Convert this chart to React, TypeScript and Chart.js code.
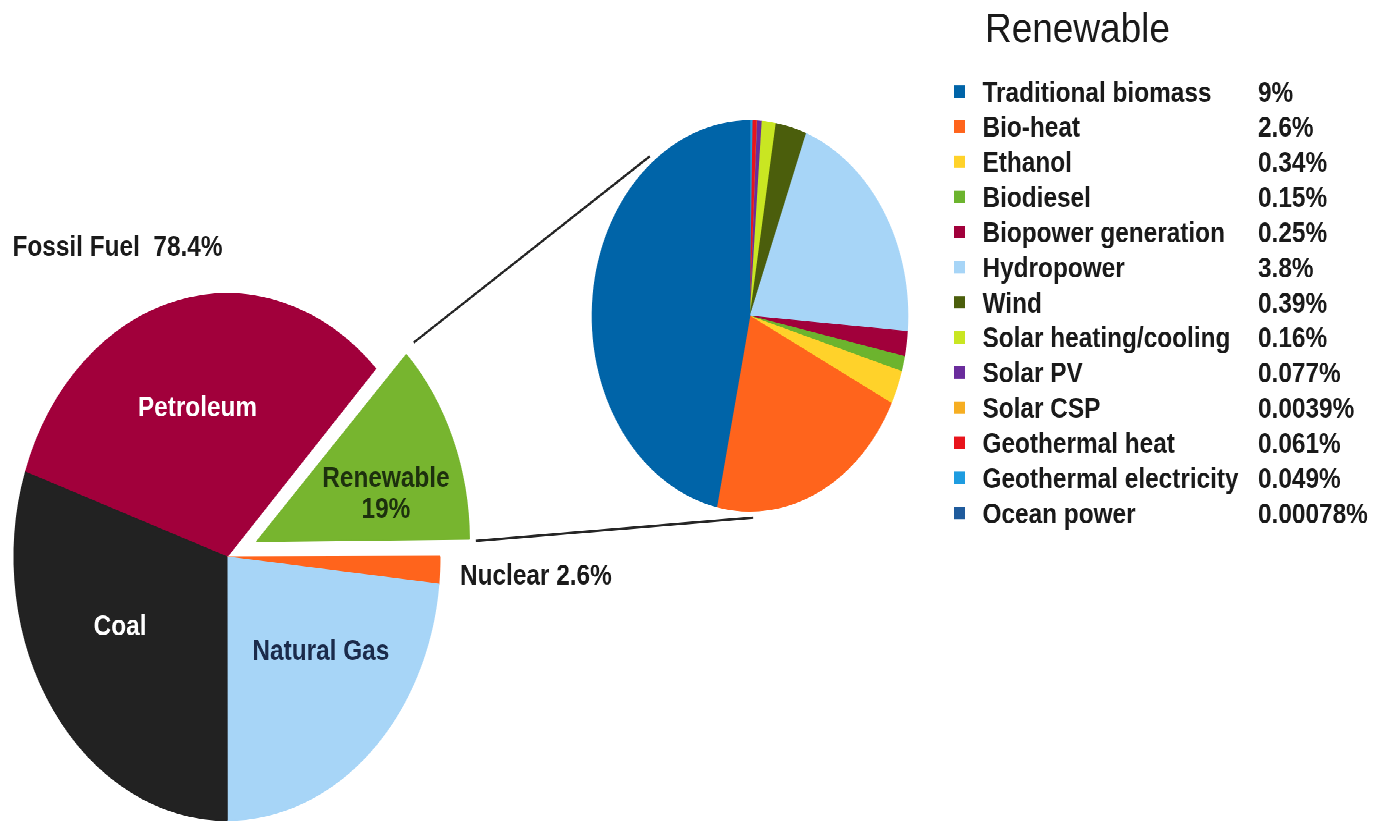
import { useEffect, useRef } from "react";
import { Chart, registerables } from "chart.js";

Chart.register(...registerables);

// ---------------- data ----------------
// Left pie: global final energy consumption (slice shares as drawn in the picture)
const energyLabels = ["Petroleum", "Renewable", "Nuclear", "Natural Gas", "Coal"];
const energyShares = [32.06, 12.64, 1.69, 23.31, 30.22];
const energyColors = ["#a1003b", "#77b52f", "#ff641c", "#a7d5f7", "#222222"];
const energyLabelLines = [["Petroleum"], ["Renewable", "19%"], ["Nuclear 2.6%"], ["Natural Gas"], ["Coal"]];
const energyLabelColors = ["#ffffff", "#1d300e", "#1a1a1a", "#1b2b4b", "#ffffff"];
const fossilLabel = "Fossil Fuel  78.4%";

// Right pie: breakdown of renewables (slice shares as drawn in the picture)
const renewableLabels = [
  "Traditional biomass",
  "Bio-heat",
  "Ethanol",
  "Biodiesel",
  "Biopower generation",
  "Hydropower",
  "Wind",
  "Solar heating/cooling",
  "Solar PV",
  "Solar CSP",
  "Geothermal heat",
  "Geothermal electricity",
  "Ocean power",
];
const renewablePercentLabels = [
  "9%", "2.6%", "0.34%", "0.15%", "0.25%", "3.8%", "0.39%",
  "0.16%", "0.077%", "0.0039%", "0.061%", "0.049%", "0.00078%",
];
const renewableShares = [8.86, 3.99, 0.53, 0.24, 0.39, 3.89, 0.6, 0.27, 0.09, 0.005, 0.08, 0.053, 0.001];
const renewableColors = [
  "#0064a8", "#ff641c", "#ffd22a", "#6cb42e", "#a1003b", "#a7d5f7", "#4b5e0c",
  "#c9e622", "#6a2c9c", "#f6ae22", "#e8141c", "#1e9ce0", "#1f5b9c",
];
const legendTitle = "Renewable";

// ---------------- layout ----------------
const PAGE_W = 1377;
const PAGE_H = 823;
const STRETCH = 1.2357;
const CANVAS_H = Math.round(PAGE_H / STRETCH);
const FONT = "'Liberation Sans', Arial, Helvetica, sans-serif";
const BODY_FONT = `bold 23px ${FONT}`;
const BODY_SX = 1.06;

const LEFT_CX = 227;
const LEFT_CY = 557 / STRETCH;
const LEFT_R = 213;
const LEFT_ROTATION = 288.8;
const EXPLODE = 32;
const explodeOffsets = [0, EXPLODE * 4, 0, 0, 0];
// label anchor: [clock degrees, radius fraction]
const energyLabelPolar = [
  [346.3, 0.585],
  [73.2, 0.635],
  [93.6, 1.096],
  [129, 0.567],
  [242.3, 0.567],
];
const energyLabelAlign = ["center", "center", "left", "center", "center"];

const RIGHT_CX = 750;
const RIGHT_CY = 316 / STRETCH;
const RIGHT_R = 158;

const LEGEND_TITLE_X = 985;
const LEGEND_TITLE_Y = 42 / STRETCH;
const LEGEND_MARK_X = 954;
const LEGEND_TEXT_X = 982.5;
const LEGEND_PCT_X = 1258;
const LEGEND_BASE = 101.7 / STRETCH;
const LEGEND_STEP = 35.12 / STRETCH;

function paddingFor(cx: number, cy: number) {
  return {
    left: Math.max(0, 2 * cx - PAGE_W),
    right: Math.max(0, PAGE_W - 2 * cx),
    top: Math.max(0, 2 * cy - CANVAS_H),
    bottom: Math.max(0, CANVAS_H - 2 * cy),
  };
}

function polar(cx: number, cy: number, r: number, clockDeg: number): [number, number] {
  const a = ((clockDeg - 90) * Math.PI) / 180;
  return [cx + Math.cos(a) * r, cy + Math.sin(a) * r];
}

function drawText(
  ctx: CanvasRenderingContext2D,
  text: string,
  x: number,
  y: number,
  font: string,
  color: string,
  align: CanvasTextAlign,
  sx: number,
  baseline: CanvasTextBaseline = "middle"
) {
  ctx.save();
  ctx.font = font;
  ctx.fillStyle = color;
  ctx.textAlign = align;
  ctx.textBaseline = baseline;
  ctx.translate(x, y);
  ctx.scale(sx, 1);
  ctx.fillText(text, 0, 0);
  ctx.restore();
}

function explodedCenter(arc: any) {
  const half = (arc.startAngle + arc.endAngle) / 2;
  return [arc.x + Math.cos(half) * EXPLODE, arc.y + Math.sin(half) * EXPLODE];
}

const leftPlugin = {
  id: "leftLabels",
  afterUpdate(chart: any) {
    // keep the exploded slice at the same radius as the rest of the pie
    const meta = chart.getDatasetMeta(0);
    meta.data.forEach((arc: any, i: number) => {
      const off = (explodeOffsets[i] || 0) / 4;
      if (!off) return;
      const circ = arc.endAngle - arc.startAngle;
      const fix = 1 - Math.sin(Math.min(Math.PI, circ));
      arc.outerRadius = arc.outerRadius - off * fix;
    });
  },
  afterDatasetsDraw(chart: any) {
    const ctx = chart.ctx as CanvasRenderingContext2D;
    const meta = chart.getDatasetMeta(0);
    const R = meta.controller.outerRadius;
    meta.data.forEach((arc: any, i: number) => {
      let cx = arc.x;
      let cy = arc.y;
      if (explodeOffsets[i]) {
        [cx, cy] = explodedCenter(arc);
      }
      const [deg, rf] = energyLabelPolar[i];
      const [x, y] = polar(cx, cy, R * rf, deg);
      const lines = energyLabelLines[i];
      const gap = 25;
      lines.forEach((line, k) => {
        const yy = y + (k - (lines.length - 1) / 2) * gap;
        drawText(ctx, line, x, yy + 1, BODY_FONT, energyLabelColors[i], energyLabelAlign[i] as CanvasTextAlign, BODY_SX);
      });
    });
    const first = meta.data[0];
    drawText(ctx, fossilLabel, first.x - R - 1.5, first.y - R - 37, BODY_FONT, "#1a1a1a", "left", BODY_SX);
  },
};

function makeRightPlugin(left: Chart) {
  return {
    id: "rightExtras",
    afterDatasetsDraw(chart: any) {
      const ctx = chart.ctx as CanvasRenderingContext2D;
      // connector lines
      const lmeta: any = left.getDatasetMeta(0);
      const arc: any = lmeta.data[1];
      const R = lmeta.controller.outerRadius;
      const [ex, ey] = explodedCenter(arc);
      const upStart = [ex + Math.cos(arc.startAngle) * R * 1.057, ey + Math.sin(arc.startAngle) * R * 1.057];
      const lowStart = [ex + Math.cos(arc.endAngle) * R * 1.03, ey + Math.sin(arc.endAngle) * R * 1.03];
      const rmeta: any = chart.getDatasetMeta(0);
      const r0 = rmeta.data[0];
      const rR = rmeta.controller.outerRadius;
      const upEnd = polar(r0.x, r0.y, rR * 1.035, 322.2);
      const lowEnd = polar(r0.x, r0.y, rR * 1.033, 178.9);
      ctx.save();
      ctx.strokeStyle = "#262626";
      ctx.lineWidth = 2;
      ctx.beginPath();
      ctx.moveTo(upStart[0], upStart[1]);
      ctx.lineTo(upEnd[0], upEnd[1]);
      ctx.moveTo(lowStart[0], lowStart[1]);
      ctx.lineTo(lowEnd[0], lowEnd[1]);
      ctx.stroke();
      ctx.restore();

      // legend
      drawText(ctx, legendTitle, LEGEND_TITLE_X, LEGEND_TITLE_Y, `33px ${FONT}`, "#1a1a1a", "left", 1.12, "alphabetic");
      renewableLabels.forEach((label, i) => {
        const base = LEGEND_BASE + i * LEGEND_STEP;
        const capMid = base - 0.358 * 23;
        ctx.fillStyle = renewableColors[i];
        ctx.fillRect(LEGEND_MARK_X, capMid - 5, 11, 10);
        drawText(ctx, label, LEGEND_TEXT_X, base, BODY_FONT, "#1a1a1a", "left", BODY_SX, "alphabetic");
        drawText(ctx, renewablePercentLabels[i], LEGEND_PCT_X, base, BODY_FONT, "#1a1a1a", "left", BODY_SX, "alphabetic");
      });
    },
  };
}

export default function App() {
  const leftRef = useRef<HTMLCanvasElement | null>(null);
  const rightRef = useRef<HTMLCanvasElement | null>(null);

  useEffect(() => {
    if (!leftRef.current || !rightRef.current) return;
    const left = new Chart(leftRef.current, {
      type: "pie",
      data: {
        labels: energyLabels,
        datasets: [
          {
            data: energyShares,
            backgroundColor: energyColors,
            borderColor: energyColors,
            borderWidth: 1,
            offset: explodeOffsets,
          } as any,
        ],
      },
      options: {
        responsive: false,
        animation: false,
        devicePixelRatio: 2,
        events: [],
        rotation: LEFT_ROTATION,
        radius: LEFT_R,
        layout: { padding: paddingFor(LEFT_CX, LEFT_CY) },
        plugins: { legend: { display: false }, tooltip: { enabled: false } },
      } as any,
      plugins: [leftPlugin as any],
    });

    const revShares = [...renewableShares].reverse();
    const revColors = [...renewableColors].reverse();
    const revLabels = [...renewableLabels].reverse();
    const right = new Chart(rightRef.current, {
      type: "pie",
      data: {
        labels: revLabels,
        datasets: [
          {
            data: revShares,
            backgroundColor: revColors,
            borderColor: revColors,
            borderWidth: 0.6,
          } as any,
        ],
      },
      options: {
        responsive: false,
        animation: false,
        devicePixelRatio: 2,
        events: [],
        rotation: 0,
        radius: RIGHT_R,
        layout: { padding: paddingFor(RIGHT_CX, RIGHT_CY) },
        plugins: { legend: { display: false }, tooltip: { enabled: false } },
      } as any,
      plugins: [makeRightPlugin(left) as any],
    });

    return () => {
      right.destroy();
      left.destroy();
    };
  }, []);

  return (
    <div
      style={{
        position: "fixed",
        left: 0,
        top: 0,
        width: PAGE_W,
        height: CANVAS_H,
        transform: `scaleY(${PAGE_H / CANVAS_H})`,
        transformOrigin: "0 0",
        background: "#ffffff",
      }}
    >
      <canvas ref={leftRef} width={PAGE_W} height={CANVAS_H} style={{ position: "absolute", left: 0, top: 0 }} />
      <canvas ref={rightRef} width={PAGE_W} height={CANVAS_H} style={{ position: "absolute", left: 0, top: 0 }} />
    </div>
  );
}
